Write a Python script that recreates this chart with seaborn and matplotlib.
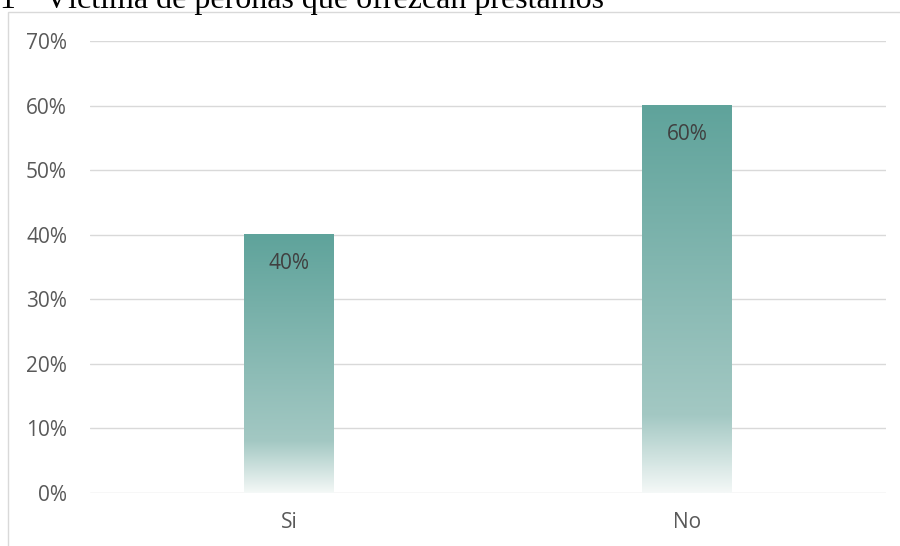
import numpy as np
import matplotlib
matplotlib.use("Agg")
import matplotlib.pyplot as plt
from matplotlib.colors import LinearSegmentedColormap
from matplotlib.patches import Rectangle
import seaborn as sns

categories = ["Si", "No"]
values = [0.40, 0.60]
value_labels = ["40%", "60%"]
y_ticks = [0.0, 0.1, 0.2, 0.3, 0.4, 0.5, 0.6, 0.7]
y_tick_labels = ["0%", "10%", "20%", "30%", "40%", "50%", "60%", "70%"]
title_number = "1"
title_text = "Víctima de peronas que ofrezcan préstamos"

sns.set_theme(style="white")
plt.rcParams["font.family"] = ["Open Sans", "DejaVu Sans"]

W, H = 900, 546
fig = plt.figure(figsize=(W / 100, H / 100), dpi=100)

# outer chart frame
fig.patches.append(Rectangle((8 / W, -0.05), 1.0, (H - 12) / H + 0.05,
                             transform=fig.transFigure, fill=False,
                             edgecolor="#D9D9D9", linewidth=1.0))

ax = fig.add_axes([90 / W, 53 / H, (886 - 90) / W, (493 - 41) / H])
ax.set_facecolor("none")

sns.barplot(x=categories, y=values, ax=ax, width=0.224, color="#5FA39B",
            saturation=1)

ax.set_xlim(-0.5, 1.5)
ax.set_ylim(0, 0.7)
ax.set_yticks(y_ticks)
ax.set_yticklabels(y_tick_labels)
ax.grid(axis="y", color="#D9D9D9", linewidth=1.0)
ax.set_axisbelow(True)
for s in ax.spines.values():
    s.set_visible(False)
ax.tick_params(axis="y", length=0, pad=16.5, labelsize=15, labelcolor="#595959")
ax.tick_params(axis="x", length=0, pad=13.5, labelsize=15, labelcolor="#595959")
ax.set_xlabel("")
ax.set_ylabel("")

# vertical gradient fill for each bar
grad = LinearSegmentedColormap.from_list(
    "teal_fade",
    [(0.0, "#F4F8F7"), (0.20, "#A3C8C3"), (1.0, "#5FA39B")])
ramp = np.linspace(0, 1, 256).reshape(-1, 1)
for p in ax.patches:
    x0, w, h = p.get_x(), p.get_width(), p.get_height()
    p.set_facecolor("none")
    p.set_edgecolor("none")
    ax.imshow(ramp, cmap=grad, origin="lower", aspect="auto",
              extent=[x0, x0 + w, 0, h], zorder=2, interpolation="bilinear")

for i, (v, lab) in enumerate(zip(values, value_labels)):
    ax.annotate(lab, xy=(i, v), xytext=(0, -20.5), textcoords="offset points",
                ha="center", va="center", fontsize=15, color="#404040",
                zorder=3)

ax.set_xlim(-0.5, 1.5)
ax.set_ylim(0, 0.7)

# heading (partially above the canvas edge)
fig.text(-1 / W, 1 - 8 / H, title_number, family="Liberation Serif",
         fontsize=23, color="black", ha="left", va="baseline")
fig.text(45 / W, 1 - 8 / H, title_text, family="Liberation Serif",
         fontsize=23, color="black", ha="left", va="baseline")

fig.savefig("out.png", dpi=100)
